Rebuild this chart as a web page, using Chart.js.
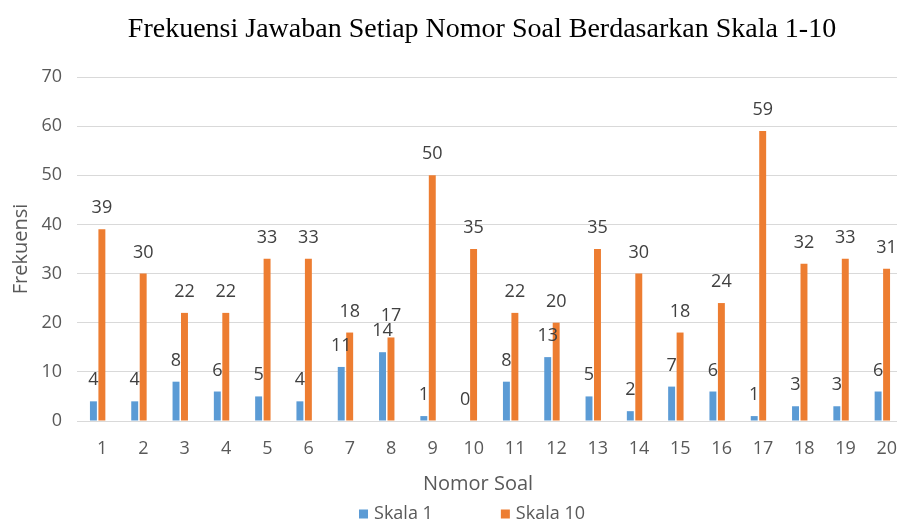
<!DOCTYPE html>
<html>
<head>
<meta charset="utf-8">
<script src="https://cdn.jsdelivr.net/npm/chart.js@4"></script>
<style>
  html, body { margin: 0; padding: 0; background: #fff; overflow: hidden; }
  #wrap { position: relative; width: 960px; height: 522px; }
</style>
</head>
<body>
<div id="wrap"><canvas id="chart"></canvas></div>
<script>
const categories = ['1', '2', '3', '4', '5', '6', '7', '8', '9', '10',
	'11', '12', '13', '14', '15', '16', '17', '18', '19', '20'];
const skala1 = [4, 4, 8, 6, 5, 4, 11, 14, 1, 0, 8, 13, 5, 2, 7, 6, 1, 3, 3, 6];
const skala10 = [39, 30, 22, 22, 33, 33, 18, 17, 50, 35, 22, 20, 35, 30, 18, 24, 59, 32, 33, 31];
const seriesNames = ['Skala 1', 'Skala 10'];
const seriesColors = ['#5b9bd5', '#ed7d31'];
const yMax = 70;
const yStep = 10;
const chartTitle = 'Frekuensi Jawaban Setiap Nomor Soal Berdasarkan Skala 1-10';
const xTitle = 'Nomor Soal';
const yTitle = 'Frekuensi';

const sans = "'Open Sans', 'Noto Sans', sans-serif";
const serif = "'Liberation Serif', 'Times New Roman', serif";

// value labels above each bar
const valueLabels = {
	id: 'valueLabels',
	afterDatasetsDraw(chart) {
		const ctx = chart.ctx;
		ctx.save();
		ctx.font = '18px ' + sans;
		ctx.fillStyle = '#404040';
		ctx.textAlign = 'center';
		ctx.textBaseline = 'alphabetic';
		chart.data.datasets.forEach((ds, i) => {
			let meta = chart.getDatasetMeta(i);
			meta.data.forEach((bar, j) => {
				ctx.fillText(String(ds.data[j]), bar.x, bar.y - 16);
			});
		});
		ctx.restore();
	}
};

// the original is cropped on the right, so title, axis title and legend
// are centred on the uncropped chart rather than on the visible canvas
const outerTexts = {
	id: 'outerTexts',
	afterDraw(chart) {
		const ctx = chart.ctx;
		ctx.save();
		ctx.textAlign = 'center';
		ctx.textBaseline = 'middle';
		ctx.font = '28px ' + serif;
		ctx.fillStyle = '#000';
		ctx.fillText(chartTitle, 482, 30);

		ctx.font = '20px ' + sans;
		ctx.fillStyle = '#595959';
		ctx.fillText(xTitle, 478, 484);

		// legend
		ctx.font = '18px ' + sans;
		ctx.textAlign = 'left';
		let gap = 68, box = 9;
		let widths = chart.data.datasets.map(ds => box + 6 + ctx.measureText(ds.label).width);
		let total = widths.reduce((a, b) => a + b, 0) + gap * (widths.length - 1);
		let x = 472 - total / 2;
		let y = 514;
		chart.data.datasets.forEach((ds, i) => {
			ctx.fillStyle = ds.backgroundColor;
			ctx.fillRect(x, y - box / 2, box, box);
			ctx.fillStyle = '#595959';
			ctx.fillText(ds.label, x + box + 6, y);
			x += widths[i] + gap;
		});
		ctx.restore();
	}
};

new Chart('chart', {
	type: 'bar',
	data: {
		labels: categories,
		datasets: [
			{ label: seriesNames[0], data: skala1, backgroundColor: seriesColors[0] },
			{ label: seriesNames[1], data: skala10, backgroundColor: seriesColors[1] },
		],
	},
	options: {
		responsive: true,
		maintainAspectRatio: false,
		animation: false,
		layout: { padding: { top: 77, left: 0, right: 57, bottom: 21 } },
		datasets: {
			bar: { categoryPercentage: 0.41, barPercentage: 0.82 },
		},
		plugins: {
			legend: { display: false },
			tooltip: { enabled: false },
			title: { display: false },
		},
		scales: {
			x: {
				grid: { display: false, drawTicks: false },
				border: { display: true, color: '#d9d9d9', width: 1 },
				ticks: { color: '#595959', font: { family: sans, size: 18 }, padding: 17, labelOffset: 4.5, maxRotation: 0 },
				afterFit(scale) { scale.height = 80; },
			},
			y: {
				min: 0,
				max: yMax,
				grid: { color: '#d9d9d9', drawTicks: false },
				border: { display: false },
				ticks: { stepSize: yStep, color: '#595959', font: { family: sans, size: 18 }, padding: 15 },
				title: {
					display: true,
					text: yTitle,
					color: '#595959',
					font: { family: sans, size: 20, lineHeight: 1.2 },
					padding: { top: 9, bottom: 0 },
				},
				afterFit(scale) { scale.width = 77; },
			},
		},
	},
	plugins: [valueLabels, outerTexts],
});
</script>
</body>
</html>
